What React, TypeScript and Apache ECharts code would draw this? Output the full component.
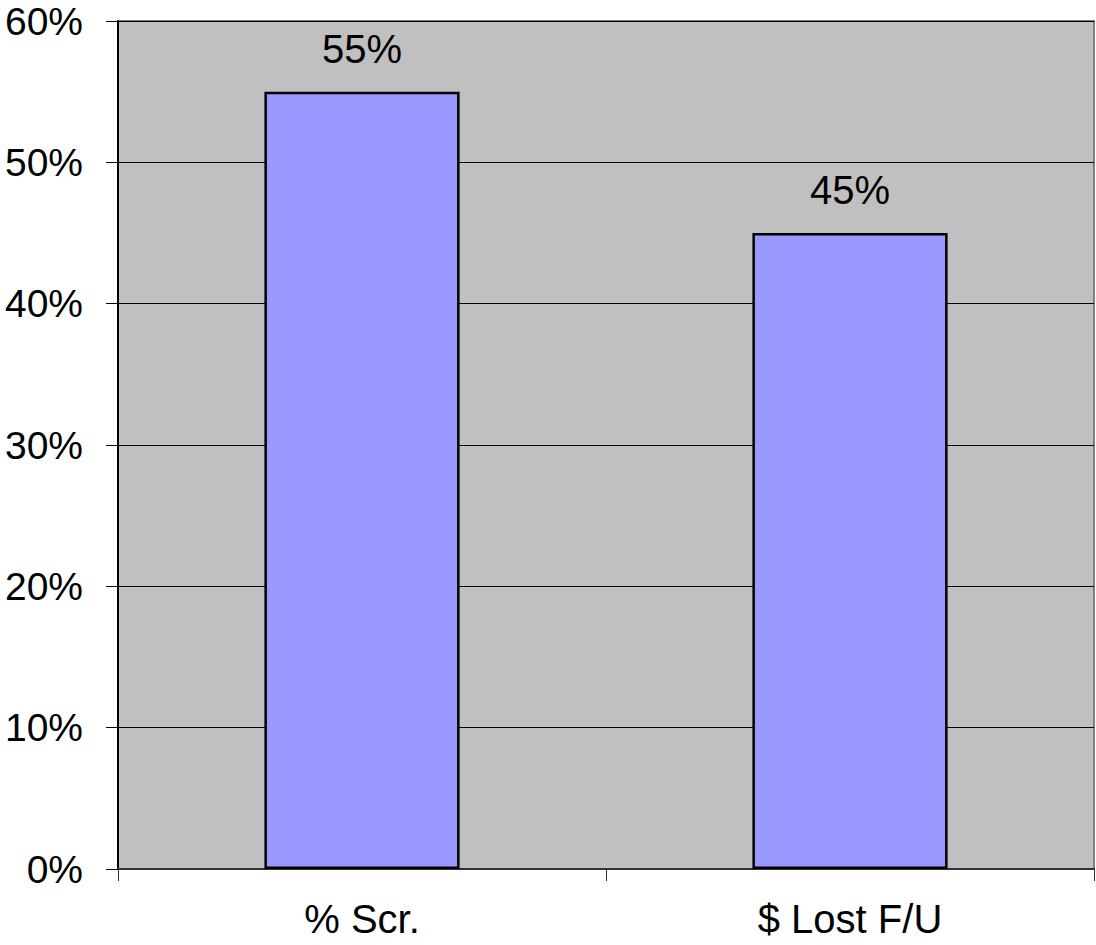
import React, { useEffect, useRef } from "react";
import * as echarts from "echarts";

const categories = ["% Scr.", "$ Lost F/U"];
const values = [55, 45];
const yTicks = [0, 10, 20, 30, 40, 50, 60];

export default function App() {
  const ref = useRef<HTMLDivElement>(null);
  useEffect(() => {
    if (!ref.current) return;
    const chart = echarts.init(ref.current, null, { renderer: "svg" });
    const font = "Liberation Sans, Arial, sans-serif";
    chart.setOption({
      animation: false,
      grid: {
        left: 118,
        top: 21,
        right: 2,
        bottom: 76,
        show: true,
        backgroundColor: "#C0C0C0",
        borderColor: "#808080",
        borderWidth: 2,
      },
      xAxis: {
        type: "category",
        data: categories,
        boundaryGap: true,
        axisLine: { show: true, lineStyle: { color: "#333", width: 2 } },
        axisTick: { show: true, length: 12, alignWithLabel: false, lineStyle: { color: "#333", width: 1 } },
        axisLabel: { color: "#000", fontSize: 40, fontFamily: font, margin: 30 },
      },
      yAxis: {
        type: "value",
        min: yTicks[0],
        max: yTicks[yTicks.length - 1],
        interval: 10,
        axisLine: { show: true, lineStyle: { color: "#000", width: 2 } },
        axisTick: { show: true, length: 12, lineStyle: { color: "#000", width: 1 } },
        axisLabel: {
          color: "#000",
          fontSize: 39,
          lineHeight: 32,
          fontFamily: font,
          margin: 35,
          formatter: (v: number) => v + "%",
        },
        splitLine: { show: true, lineStyle: { color: "#000", width: 1 } },
      },
      series: [
        {
          type: "bar",
          data: values,
          barWidth: "40%",
          itemStyle: { color: "#9999FF", borderColor: "#000", borderWidth: 2.5 },
          label: {
            show: true,
            position: "top",
            distance: 23,
            color: "#000",
            fontSize: 40,
            fontFamily: font,
            formatter: (p: any) => p.value + "%",
          },
        },
      ],
    });
    return () => chart.dispose();
  }, []);
  return (
    <div
      ref={ref}
      style={{ position: "fixed", left: 0, top: 0, width: 1096, height: 945, background: "#fff" }}
    />
  );
}
